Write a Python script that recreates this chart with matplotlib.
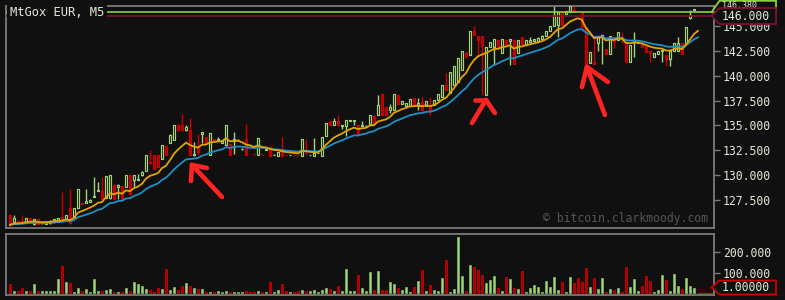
import numpy as np
import pandas as pd
import matplotlib
matplotlib.use("Agg")
import matplotlib.pyplot as plt
from matplotlib.patches import Polygon

# ---------------- data ----------------
opens = [
    126.0, 125.3, 125.32, 125.35, 125.3, 125.65, 125.1, 125.55, 125.15, 125.1,
    125.15, 125.25, 125.3, 125.8, 125.6, 126.7, 125.8, 126.7, 127.15, 127.2,
    127.25, 127.8, 128.45, 128.4, 127.7, 127.7, 129.05, 128.85, 128.9, 128.85,
    130.0, 129.5, 129.55, 130.0, 130.45, 131.3, 132.0, 132.0, 131.6, 132.95,
    133.25, 133.5, 135.0, 135.0, 134.5, 134.55, 132.0, 132.85, 134.1, 133.8,
    132.0, 133.62, 133.58, 133.2, 133.0, 133.1, 133.4, 133.5, 132.6, 133.6,
    132.85, 132.12, 132.0, 132.12, 132.57, 132.8, 132.0, 131.95, 132.35, 132.05,
    132.0, 132.05, 132.05, 131.95, 132.25, 132.0, 131.95, 132.2, 131.95, 133.9,
    135.4, 135.0, 135.4, 134.95, 134.95, 135.45, 135.45, 135.0, 134.95, 134.9,
    135.15, 135.9, 136.05, 138.15, 136.9, 136.5, 136.5, 138.05, 137.2, 136.95,
    136.95, 137.8, 136.95, 137.4, 136.95, 136.95, 137.05, 137.55, 137.9, 139.05,
    138.25, 139.05, 139.4, 140.6, 142.3, 142.1, 144.45, 143.95, 143.95, 138.1,
    142.9, 142.9, 143.6, 142.3, 143.6, 143.45, 143.6, 142.3, 143.85, 143.1,
    143.4, 143.45, 143.45, 143.7, 143.95, 144.45, 144.95, 145.1, 146.45, 146.25,
    146.45, 146.65, 146.55, 146.45, 144.9, 141.25, 141.4, 143.3, 143.95, 142.65,
    142.15, 143.8, 143.6, 143.85, 143.25, 141.4, 143.35, 143.3, 143.25, 143.0,
    142.5, 141.9, 142.2, 142.5, 142.1, 141.65, 142.45, 142.45, 143.25, 143.25,
    145.8, 146.65, 146.02,
]
highs = [
    126.0, 126.0, 125.4, 126.0, 125.7, 125.7, 125.6, 125.6, 125.2, 125.35,
    125.45, 125.6, 125.7, 128.3, 126.0, 128.6, 126.7, 128.6, 127.2, 128.6,
    127.55, 129.8, 129.35, 129.85, 129.9, 130.0, 129.1, 129.1, 128.9, 130.0,
    130.0, 130.05, 130.1, 130.4, 132.0, 132.5, 132.0, 132.0, 133.0, 133.0,
    134.1, 135.05, 135.1, 136.15, 135.05, 135.7, 133.35, 134.1, 134.3, 133.85,
    134.2, 133.65, 133.85, 133.55, 135.05, 133.1, 134.3, 133.6, 132.7, 135.15,
    132.9, 132.15, 133.7, 132.15, 132.65, 132.8, 132.1, 132.35, 133.8, 132.05,
    132.05, 132.05, 132.05, 133.6, 133.6, 132.05, 133.7, 132.25, 133.8, 135.2,
    135.4, 135.7, 136.05, 135.0, 135.5, 135.5, 135.5, 135.0, 135.4, 135.0,
    136.05, 135.9, 138.05, 138.15, 136.9, 137.2, 138.2, 138.05, 137.5, 137.3,
    137.7, 137.8, 137.8, 137.85, 137.5, 137.9, 137.55, 138.2, 139.05, 140.3,
    140.4, 141.0, 141.75, 142.5, 142.5, 144.45, 144.95, 143.95, 143.95, 142.9,
    143.4, 143.65, 143.6, 143.65, 143.6, 143.65, 143.6, 143.6, 143.9, 143.6,
    143.85, 143.7, 143.85, 144.05, 144.5, 145.0, 147.0, 146.45, 146.45, 146.55,
    147.0, 147.0, 146.55, 146.45, 144.9, 142.4, 143.85, 143.95, 144.1, 142.65,
    143.95, 143.9, 144.35, 144.35, 143.25, 143.1, 144.35, 143.35, 143.25, 143.0,
    142.5, 142.3, 142.5, 142.6, 142.1, 142.5, 143.25, 143.85, 143.25, 144.9,
    146.6, 146.7, 146.02,
]
lows = [
    124.8, 125.3, 125.2, 125.25, 125.3, 125.4, 125.0, 125.0, 125.1, 125.05,
    125.1, 125.2, 125.3, 125.5, 125.6, 125.1, 125.8, 126.7, 127.1, 127.15,
    127.25, 127.8, 128.4, 127.6, 127.7, 127.6, 127.6, 127.6, 127.6, 128.85,
    128.0, 128.85, 129.5, 129.95, 130.45, 131.1, 130.6, 130.8, 131.6, 132.0,
    133.2, 133.5, 134.4, 134.45, 134.45, 132.0, 131.95, 132.0, 133.2, 133.2,
    132.0, 133.55, 133.55, 133.2, 133.0, 132.0, 132.1, 133.5, 132.55, 132.0,
    132.7, 132.05, 132.0, 132.05, 132.55, 131.95, 132.0, 131.95, 131.95, 132.0,
    132.0, 132.0, 132.0, 131.95, 132.0, 132.0, 131.95, 132.2, 131.95, 133.9,
    135.0, 135.0, 135.0, 134.65, 133.9, 135.45, 135.0, 134.0, 134.9, 134.9,
    135.1, 135.1, 136.0, 136.0, 136.0, 136.2, 136.5, 137.2, 137.2, 136.95,
    136.95, 136.95, 136.55, 136.4, 136.95, 136.05, 137.05, 137.55, 137.9, 138.6,
    138.25, 139.05, 139.4, 140.6, 141.9, 142.1, 144.1, 142.1, 138.1, 138.1,
    142.9, 141.1, 142.75, 142.3, 143.2, 141.1, 141.2, 142.3, 143.2, 143.1,
    143.4, 143.45, 143.45, 143.7, 143.95, 144.45, 144.95, 143.85, 144.95, 146.25,
    146.45, 146.45, 146.5, 144.9, 141.1, 141.25, 141.15, 142.45, 141.2, 142.15,
    142.15, 142.75, 143.6, 143.25, 141.4, 141.4, 141.85, 143.3, 142.85, 142.4,
    141.4, 141.9, 142.2, 141.4, 141.0, 141.0, 142.45, 142.45, 142.2, 143.25,
    145.75, 146.65, 146.0,
]
closes = [
    125.0, 125.65, 125.3, 125.3, 125.65, 125.45, 125.55, 125.05, 125.17, 125.3,
    125.4, 125.55, 125.65, 125.55, 126.0, 125.2, 126.7, 128.6, 127.1, 127.35,
    127.5, 127.85, 128.5, 127.6, 129.9, 130.0, 127.6, 129.05, 127.6, 130.0,
    128.05, 130.0, 129.6, 130.35, 132.0, 131.2, 130.6, 130.85, 133.0, 132.0,
    134.0, 135.05, 134.5, 134.5, 134.8, 132.0, 132.1, 132.35, 134.3, 133.2,
    134.2, 133.58, 133.62, 133.5, 135.05, 132.0, 133.6, 133.55, 132.65, 132.0,
    132.7, 132.08, 133.7, 132.08, 132.62, 131.95, 132.05, 132.35, 131.95, 132.0,
    132.05, 132.0, 132.0, 133.6, 132.2, 132.05, 132.2, 132.25, 133.8, 135.2,
    135.0, 135.4, 135.0, 135.0, 135.5, 135.5, 135.5, 134.0, 135.05, 134.95,
    136.05, 135.15, 137.05, 136.05, 136.05, 136.9, 138.2, 137.2, 137.5, 137.3,
    137.7, 136.95, 137.3, 136.55, 137.5, 136.55, 137.55, 138.2, 139.05, 138.6,
    140.4, 141.0, 141.75, 142.5, 141.9, 144.45, 144.1, 143.6, 143.0, 142.9,
    143.4, 143.65, 142.75, 143.65, 143.2, 143.65, 141.2, 143.6, 143.2, 143.6,
    143.6, 143.65, 143.8, 144.0, 144.5, 145.0, 146.1, 146.45, 145.1, 146.55,
    147.0, 146.45, 146.5, 144.9, 141.1, 142.4, 141.2, 143.95, 144.05, 142.15,
    143.95, 143.5, 144.35, 143.7, 141.4, 143.1, 143.55, 143.35, 142.85, 142.4,
    142.25, 142.3, 142.5, 142.6, 141.65, 142.5, 143.25, 143.25, 142.2, 144.9,
    146.1, 146.7, 146.0,
]
volumes = [
    42, 12, 8, 27, 12, 12, 42, 12, 12, 12,
    12, 12, 67, 132, 52, 47, 7, 27, 12, 22,
    7, 67, 12, 12, 17, 22, 7, 7, 7, 27,
    12, 52, 42, 37, 22, 17, 7, 27, 22, 117,
    17, 32, 17, 37, 47, 37, 27, 22, 22, 7,
    7, 7, 12, 7, 12, 7, 7, 7, 7, 12,
    7, 7, 12, 7, 7, 52, 7, 17, 42, 12,
    7, 7, 12, 17, 12, 12, 17, 7, 17, 27,
    22, 12, 37, 12, 117, 12, 12, 87, 27, 12,
    102, 17, 107, 17, 17, 52, 42, 27, 13, 28,
    5, 28, 57, 111, 8, 38, 13, 8, 72, 161,
    5, 18, 274, 82, 8, 136, 126, 111, 87, 48,
    62, 82, 23, 8, 77, 67, 23, 18, 107, 5,
    23, 38, 28, 5, 57, 28, 77, 13, 52, 5,
    77, 48, 72, 52, 121, 28, 72, 18, 72, 5,
    18, 13, 23, 5, 126, 28, 67, 8, 33, 82,
    57, 5, 13, 87, 62, 8, 92, 33, 18, 72,
    33, 23, 1,
]
price_ticks = [127.5, 130.0, 132.5, 135.0, 137.5, 140.0, 142.5, 145.0]
volume_ticks = [100, 200]
title_text = "MtGox EUR, M5"
watermark_text = "\u00a9 bitcoin.clarkmoody.com"
last_price = 146.0
ask_price = 146.38
last_volume = 1.0

# ---------------- style ----------------
BG = "#101010"
SPINE = "#7a7a7a"
TXT = "#e6e6d6"
GREEN = "#a4d37c"
RED_FILL = "#a00000"
RED_EDGE = "#d00000"
ORANGE = "#e2a400"
BLUE = "#1f8fc4"
LINE_GREEN = "#8ed13a"
LINE_RED = "#7c1232"
ARROW = "#ff2424"
MONO = "DejaVu Sans Mono"
FS = 8.3

o = np.array(opens); h = np.array(highs); l = np.array(lows); c = np.array(closes)
v = np.array(volumes, dtype=float)
n = len(o)
x = np.arange(n)
up = c >= o

W, H = 785, 300
fig = plt.figure(figsize=(W / 100, H / 100), dpi=100, facecolor=BG)


def fx(px):
    return px / W


def fy(py):
    return 1 - py / H


ax = fig.add_axes([fx(5.7), fy(228.3), fx(714.3 - 5.7), (228.3 - 5.7) / H])
axv = fig.add_axes([fx(5.7), fy(294.5), fx(714.3 - 5.7), (294.5 - 234) / H])

XLIM = (-1.07, 176.1)
PLIM = (124.65, 147.04)
VLIM = (-7, 289)

for a in (ax, axv):
    a.set_facecolor(BG)
    a.set_xlim(*XLIM)
    for s in a.spines.values():
        s.set_color(SPINE)
        s.set_linewidth(1.3)
    a.set_xticks([])
    a.yaxis.tick_right()
    a.tick_params(axis="y", which="both", colors=SPINE, length=4, width=1.0,
                  pad=2, labelcolor=TXT, labelsize=FS, direction="out",
                  left=False, labelleft=False)

ax.set_ylim(*PLIM)
axv.set_ylim(*VLIM)
ax.set_yticks(price_ticks)
ax.set_yticklabels([f"{t:.3f}" for t in price_ticks], fontfamily=MONO, fontsize=FS, color=TXT)
axv.set_yticks(volume_ticks)
axv.set_yticklabels([f"{t:.3f}" for t in volume_ticks], fontfamily=MONO, fontsize=FS, color=TXT)

# ---------------- candles ----------------
wick_cols = np.where(up, GREEN, RED_EDGE)
ax.vlines(x, l, h, colors=wick_cols, linewidth=1.0, zorder=2)
body_lo = np.minimum(o, c)
body_h = np.maximum(np.abs(c - o), 0.05)
ax.bar(x[up], body_h[up], bottom=body_lo[up], width=0.68, facecolor=BG,
       edgecolor=GREEN, linewidth=0.85, zorder=3)
ax.bar(x[~up], body_h[~up], bottom=body_lo[~up], width=0.68, facecolor=RED_FILL,
       edgecolor=RED_EDGE, linewidth=0.85, zorder=3)

# moving averages
ema_fast = pd.Series(c).ewm(span=10, adjust=False).mean()
ema_slow = pd.Series(c).ewm(span=21, adjust=False).mean()
ax.plot(x, ema_slow, color=BLUE, linewidth=1.3, zorder=4)
ax.plot(x, ema_fast, color=ORANGE, linewidth=1.3, zorder=5)

# last price / ask lines
ax.axhline(ask_price, color=LINE_GREEN, linewidth=1.2, zorder=6)
ax.axhline(last_price, color=LINE_RED, linewidth=1.2, zorder=6)

# ---------------- volume ----------------
axv.bar(x[up], v[up], width=0.68, facecolor=GREEN, edgecolor="#7fae5a",
        linewidth=0.6, zorder=3)
axv.bar(x[~up], v[~up], width=0.68, facecolor=RED_FILL, edgecolor=RED_EDGE,
        linewidth=0.6, zorder=3)
axv.plot([x[-1], XLIM[1]], [last_volume, last_volume], color=RED_EDGE,
         linewidth=1.0, zorder=2, clip_on=False)


# ---------------- value boxes (figure pixel coordinates) ----------------
def px_to_fig(pts):
    return [(fx(px), fy(py)) for px, py in pts]


def pointer_box(tip_y, top, bottom, label, label_y, edge, fs, z):
    pts = [(711.5, tip_y), (719.5, top), (776, top), (776, bottom), (719.5, bottom)]
    fig.patches.append(Polygon(px_to_fig(pts), closed=True, transform=fig.transFigure,
                               facecolor=BG, edgecolor=edge, linewidth=1.3, zorder=z))
    fig.text(fx(722), fy(label_y), label, fontfamily=MONO, fontsize=fs, color=TXT,
             ha="left", va="center", zorder=z + 0.1)


def data_to_py(a, val):
    return H - a.transData.transform((0, val))[1]


fig.canvas.draw()
ask_py = data_to_py(ax, ask_price)
last_py = data_to_py(ax, last_price)
vol_py = data_to_py(axv, last_volume)

# ask box is squeezed against the top edge by the last-price box
pointer_box(ask_py, 0.8, 12.5, f"{ask_price:.3f}", 5.1, LINE_GREEN, 6.0, 10)
pointer_box(last_py, last_py - 8, last_py + 8, f"{last_price:.3f}", last_py,
            LINE_RED, FS, 11)
vc = min(vol_py, 294.5 - 7)
pointer_box(vc, vc - 7, vc + 7, f"{last_volume:.5f}", vc, RED_EDGE, FS, 10)

# ---------------- texts ----------------
fig.text(fx(10), fy(12.5), title_text, fontfamily=MONO, fontsize=FS + 0.4,
         color=TXT, ha="left", va="center", zorder=20,
         bbox=dict(boxstyle="square,pad=0.25", facecolor=BG, edgecolor="none"))
ax.text(0.991, 0.042, watermark_text, transform=ax.transAxes, fontfamily=MONO,
        fontsize=FS, color="#555555", ha="right", va="center", zorder=1)

# ---------------- annotation arrows (hand drawn marks) ----------------
arrow_marks = [
    # tip, arm A, arm B, shaft end  (candle index, price)
    [(45.5, 131.02), (49.25, 130.71), (45.25, 129.41), (53.0, 127.8)],
    [(119.0, 137.56), (116.25, 137.56), (121.25, 136.25), (115.5, 135.24)],
    [(144.25, 140.88), (143.0, 138.86), (149.5, 139.37), (148.75, 136.05)],
]
for tip, a1, a2, tail in arrow_marks:
    for end in (a1, a2, tail):
        ax.plot([tip[0], end[0]], [tip[1], end[1]], color=ARROW, linewidth=3.3,
                solid_capstyle="round", zorder=15)

fig.savefig("out.png", dpi=100, facecolor=BG)
